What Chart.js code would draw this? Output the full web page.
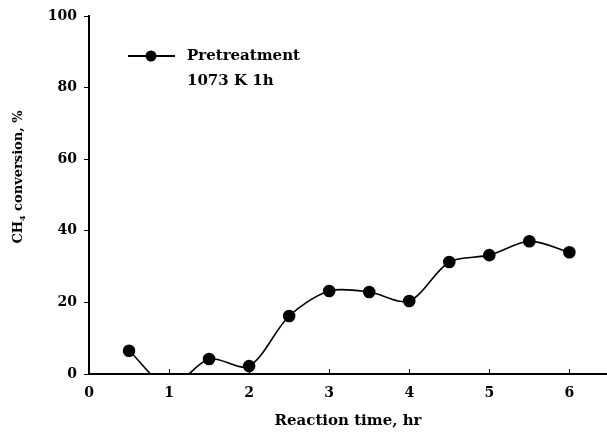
<!DOCTYPE html>
<html lang="en">
<head>
    <meta charset="UTF-8">
    <title>CH4 conversion vs reaction time</title>
    <script src="https://cdn.jsdelivr.net/npm/chart.js"></script>
    <style>
        body { margin: 0; background: #fff; }
        canvas { display: block; }
    </style>
</head>
<body>
    <canvas id="convChart" width="607" height="442"></canvas>

    <script>
        // data
        const times = [0.5, 1.0, 1.5, 2.0, 2.5, 3.0, 3.5, 4.0, 4.5, 5.0, 5.5, 6.0];
        const conversion = [6.5, -3.5, 4.2, 2.2, 16.2, 23.2, 22.9, 20.4, 31.3, 33.2, 37.1, 34.0];
        const xTicks = [0, 1, 2, 3, 4, 5, 6];
        const yTicks = [0, 20, 40, 60, 80, 100];
        const legendLines = ['Pretreatment', '1073 K 1h'];

        const FONT = '"DejaVu Serif", "Liberation Serif", serif';

        const extras = {
            id: 'extras',
            afterDraw(chart) {
                const ctx = chart.ctx;
                const x = chart.scales.x, y = chart.scales.y;
                ctx.save();
                ctx.strokeStyle = '#000';
                ctx.lineWidth = 1;
                // inward x ticks
                xTicks.forEach(v => {
                    if (v === 0) return;
                    const px = Math.round(x.getPixelForValue(v)) + 0.5;
                    ctx.beginPath();
                    ctx.moveTo(px, y.bottom);
                    ctx.lineTo(px, y.bottom - 5);
                    ctx.stroke();
                });

                // y title with subscript
                ctx.fillStyle = '#000';
                ctx.translate(19, 177);
                ctx.rotate(-Math.PI / 2);
                ctx.textBaseline = 'middle';
                const big = 'bold 13px ' + FONT, small = 'bold 8px ' + FONT;
                const parts = [['CH', big, 0], ['4', small, 4], [' conversion, %', big, 0]];
                let w = 0;
                parts.forEach(p => { ctx.font = p[1]; w += ctx.measureText(p[0]).width; });
                let cx = -w / 2;
                parts.forEach(p => {
                    ctx.font = p[1];
                    ctx.fillText(p[0], cx, p[2]);
                    cx += ctx.measureText(p[0]).width;
                });
                ctx.restore();

                // legend
                ctx.save();
                ctx.strokeStyle = '#000';
                ctx.fillStyle = '#000';
                ctx.lineWidth = 2;
                ctx.beginPath();
                ctx.moveTo(128, 56);
                ctx.lineTo(175, 56);
                ctx.stroke();
                ctx.beginPath();
                ctx.arc(151, 56, 5.5, 0, Math.PI * 2);
                ctx.fill();
                ctx.font = 'bold 15px ' + FONT;
                ctx.textBaseline = 'middle';
                ctx.fillText(legendLines[0], 187, 56);
                ctx.fillText(legendLines[1], 187, 81);
                ctx.restore();
            }
        };

        new Chart(document.getElementById('convChart'), {
            type: 'line',
            data: {
                datasets: [{
                    label: legendLines.join(' '),
                    data: times.map((t, i) => ({ x: t, y: conversion[i] })),
                    borderColor: '#000',
                    backgroundColor: '#000',
                    borderWidth: 1.6,
                    tension: 0.3,
                    pointRadius: 5.5,
                    pointHoverRadius: 5.5,
                    clip: 0
                }]
            },
            options: {
                responsive: false,
                animation: false,
                layout: { autoPadding: false, padding: { top: 16, right: 0, left: 0, bottom: 0 } },
                plugins: { legend: { display: false }, tooltip: { enabled: false } },
                scales: {
                    x: {
                        type: 'linear',
                        min: 0,
                        max: 6.47,
                        afterBuildTicks: s => { s.ticks = xTicks.map(v => ({ value: v })); },
                        afterFit: s => { s.height = 68; },
                        grid: { display: false, drawTicks: false },
                        border: { color: '#000', width: 2 },
                        ticks: {
                            color: '#000',
                            padding: 11,
                            font: { family: FONT, size: 14, weight: 'bold' }
                        },
                        title: {
                            display: true,
                            text: 'Reaction time, hr',
                            color: '#000',
                            padding: { top: 12, bottom: 12 },
                            font: { family: FONT, size: 15, weight: 'bold' }
                        }
                    },
                    y: {
                        min: 0,
                        max: 100,
                        afterBuildTicks: s => { s.ticks = yTicks.map(v => ({ value: v })); },
                        afterFit: s => { s.width = 89; },
                        grid: { drawOnChartArea: false, tickLength: 5, color: '#000', lineWidth: 1 },
                        border: { color: '#000', width: 2 },
                        ticks: {
                            color: '#000',
                            padding: 7,
                            font: { family: FONT, size: 14, weight: 'bold' }
                        }
                    }
                }
            },
            plugins: [extras]
        });
    </script>
</body>
</html>
